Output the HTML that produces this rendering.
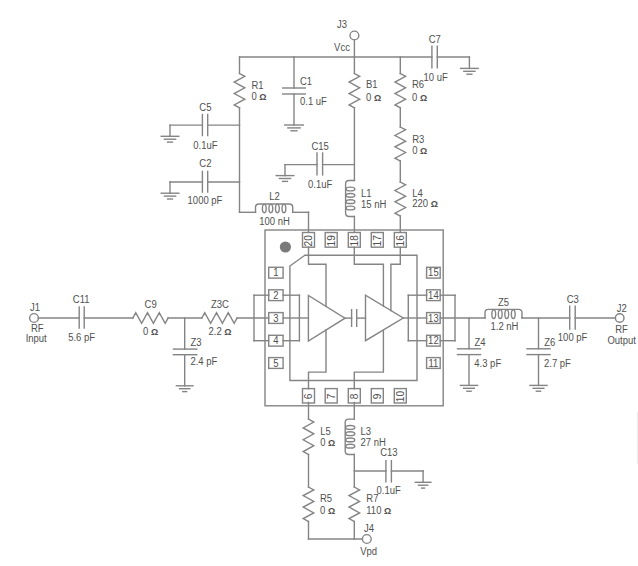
<!DOCTYPE html>
<html><head><meta charset="utf-8"><title>Schematic</title>
<style>html,body{margin:0;padding:0;background:#fff;}body{width:638px;height:566px;overflow:hidden;font-family:"Liberation Sans",sans-serif;}svg{display:block;}</style>
</head><body>
<svg width="638" height="566" viewBox="0 0 638 566">
<rect width="638" height="566" fill="#fff"/>
<line x1="637.5" y1="412" x2="637.5" y2="464" stroke="#ececec" stroke-width="1"/>
<g fill="none" stroke="#848484" stroke-width="1.4" stroke-linecap="square">
<line x1="239.5" y1="57" x2="431.9" y2="57"/>
<line x1="437.3" y1="57" x2="469.4" y2="57"/>
<circle cx="354.4" cy="35.5" r="4.4" fill="#fff"/>
<line x1="354.4" y1="39.9" x2="354.4" y2="57"/>
<line x1="431.9" y1="46.2" x2="431.9" y2="67.8"/>
<line x1="437.3" y1="46.2" x2="437.3" y2="67.8"/>
<line x1="460.6" y1="68.4" x2="478.2" y2="68.4"/>
<line x1="463.8" y1="71.3" x2="475" y2="71.3"/>
<line x1="467" y1="74.2" x2="471.8" y2="74.2"/>
<line x1="469.4" y1="57" x2="469.4" y2="68.4"/>
<line x1="239.5" y1="57" x2="239.5" y2="73.5"/>
<polyline points="239.5,73.5 244.8,76.36 234.2,82.08 244.8,87.79 234.2,93.51 244.8,99.22 234.2,104.94 239.5,107.8"/>
<line x1="239.5" y1="107.8" x2="239.5" y2="212.3"/>
<line x1="294" y1="57" x2="294" y2="88"/>
<line x1="282.7" y1="88" x2="305.3" y2="88"/>
<line x1="282.7" y1="94" x2="305.3" y2="94"/>
<line x1="294" y1="94" x2="294" y2="125"/>
<line x1="284.7" y1="125" x2="303.3" y2="125"/>
<line x1="287.9" y1="127.9" x2="300.1" y2="127.9"/>
<line x1="291.1" y1="130.8" x2="296.9" y2="130.8"/>
<line x1="354.4" y1="57" x2="354.4" y2="73.5"/>
<polyline points="354.4,73.5 359.7,76.36 349.1,82.08 359.7,87.79 349.1,93.51 359.7,99.22 349.1,104.94 354.4,107.8"/>
<line x1="354.4" y1="107.8" x2="354.4" y2="180.5"/>
<path d="M354.4 180.5 H349.1 Q345.6 180.5 345.6 184 V213 Q345.6 216.5 349.1 216.5 H354.4"/>
<ellipse cx="350.44" cy="189" rx="4.4" ry="1.9"/>
<ellipse cx="350.44" cy="195.33" rx="4.4" ry="1.9"/>
<ellipse cx="350.44" cy="201.67" rx="4.4" ry="1.9"/>
<ellipse cx="350.44" cy="208" rx="4.4" ry="1.9"/>
<line x1="354.4" y1="216.5" x2="354.4" y2="232.5"/>
<line x1="400.3" y1="57" x2="400.3" y2="73.5"/>
<polyline points="400.3,73.5 405.6,76.36 395,82.08 405.6,87.79 395,93.51 405.6,99.22 395,104.94 400.3,107.8"/>
<line x1="400.3" y1="107.8" x2="400.3" y2="127"/>
<polyline points="400.3,127 405.6,129.83 395,135.5 405.6,141.17 395,146.83 405.6,152.5 395,158.17 400.3,161"/>
<line x1="400.3" y1="161" x2="400.3" y2="182"/>
<polyline points="400.3,182 405.6,184.83 395,190.5 405.6,196.17 395,201.83 405.6,207.5 395,213.17 400.3,216"/>
<line x1="400.3" y1="216" x2="400.3" y2="232.5"/>
<line x1="170" y1="125.1" x2="202.4" y2="125.1"/>
<line x1="207.7" y1="125.1" x2="239.5" y2="125.1"/>
<line x1="202.4" y1="114.5" x2="202.4" y2="135.5"/>
<line x1="207.7" y1="114.5" x2="207.7" y2="135.5"/>
<line x1="170" y1="125.1" x2="170" y2="136.3"/>
<line x1="161.2" y1="136.3" x2="178.8" y2="136.3"/>
<line x1="164.4" y1="139.2" x2="175.6" y2="139.2"/>
<line x1="167.6" y1="142.1" x2="172.4" y2="142.1"/>
<line x1="170" y1="182" x2="202.4" y2="182"/>
<line x1="207.7" y1="182" x2="239.5" y2="182"/>
<line x1="202.4" y1="171.4" x2="202.4" y2="192.1"/>
<line x1="207.7" y1="171.4" x2="207.7" y2="192.1"/>
<line x1="170" y1="182" x2="170" y2="193.2"/>
<line x1="161.2" y1="193.2" x2="178.8" y2="193.2"/>
<line x1="164.4" y1="196.1" x2="175.6" y2="196.1"/>
<line x1="167.6" y1="199" x2="172.4" y2="199"/>
<line x1="239.5" y1="212.3" x2="255.5" y2="212.3"/>
<path d="M255.5 212.3 V207.5 Q255.5 204 259 204 H289.2 Q292.7 204 292.7 207.5 V212.3"/>
<ellipse cx="264.28" cy="208.56" rx="1.9" ry="4.15"/>
<ellipse cx="270.83" cy="208.56" rx="1.9" ry="4.15"/>
<ellipse cx="277.37" cy="208.56" rx="1.9" ry="4.15"/>
<ellipse cx="283.92" cy="208.56" rx="1.9" ry="4.15"/>
<line x1="292.7" y1="212.3" x2="308.5" y2="212.3"/>
<line x1="308.5" y1="212.3" x2="308.5" y2="232.5"/>
<line x1="285" y1="164.6" x2="317" y2="164.6"/>
<line x1="322.6" y1="164.6" x2="354.4" y2="164.6"/>
<line x1="317" y1="153" x2="317" y2="174.9"/>
<line x1="322.6" y1="153" x2="322.6" y2="174.9"/>
<line x1="285" y1="164.6" x2="285" y2="175.6"/>
<line x1="276.2" y1="175.6" x2="293.8" y2="175.6"/>
<line x1="279.4" y1="178.5" x2="290.6" y2="178.5"/>
<line x1="282.6" y1="181.4" x2="287.4" y2="181.4"/>
<rect x="265" y="230" width="178.2" height="175.8" fill="none"/>
<rect x="302.5" y="232.5" width="12" height="14.7" fill="#fff"/>
<rect x="302.5" y="388.6" width="12" height="14.4" fill="#fff"/>
<rect x="325.2" y="232.5" width="12" height="14.7" fill="#fff"/>
<rect x="325.2" y="388.6" width="12" height="14.4" fill="#fff"/>
<rect x="348.3" y="232.5" width="12" height="14.7" fill="#fff"/>
<rect x="348.3" y="388.6" width="12" height="14.4" fill="#fff"/>
<rect x="371.3" y="232.5" width="12" height="14.7" fill="#fff"/>
<rect x="371.3" y="388.6" width="12" height="14.4" fill="#fff"/>
<rect x="394.3" y="232.5" width="12" height="14.7" fill="#fff"/>
<rect x="394.3" y="388.6" width="12" height="14.4" fill="#fff"/>
<rect x="268.7" y="267.3" width="14.4" height="10.8" fill="#fff"/>
<rect x="426.6" y="267.3" width="13.6" height="10.8" fill="#fff"/>
<rect x="268.7" y="289.8" width="14.4" height="10.8" fill="#fff"/>
<rect x="426.6" y="289.8" width="13.6" height="10.8" fill="#fff"/>
<rect x="268.7" y="312.6" width="14.4" height="10.8" fill="#fff"/>
<rect x="426.6" y="312.6" width="13.6" height="10.8" fill="#fff"/>
<rect x="268.7" y="335.3" width="14.4" height="10.8" fill="#fff"/>
<rect x="426.6" y="335.3" width="13.6" height="10.8" fill="#fff"/>
<rect x="268.7" y="357.6" width="14.4" height="10.8" fill="#fff"/>
<rect x="426.6" y="357.6" width="13.6" height="10.8" fill="#fff"/>
<polyline points="305,255.2 417,255.2 417,380.5 289.9,380.5 289.9,266 305,255.2"/>
<circle cx="285.4" cy="247" r="5.6" fill="#7a7a7a" stroke="none"/>
<polygon points="308.4,295.5 308.4,341 345,318.2"/>
<polygon points="365.5,295.2 365.5,340.7 403.2,318"/>
<polyline points="308.5,247.2 308.5,264.3 326,264.3 326,306.4"/>
<polyline points="354.3,247.2 354.3,264.3 383.4,264.3 383.4,306"/>
<polyline points="400.3,247.2 400.3,264.3 390.9,264.3 390.9,310.6"/>
<polyline points="308.5,388.8 308.5,372.1 326,372.1 326,330"/>
<polyline points="354.3,388.8 354.3,372.1 383.4,372.1 383.4,330.4"/>
<line x1="254" y1="295.2" x2="268.7" y2="295.2"/>
<line x1="254" y1="340.7" x2="268.7" y2="340.7"/>
<line x1="254" y1="295.2" x2="254" y2="340.7"/>
<line x1="283.1" y1="295.2" x2="299.4" y2="295.2"/>
<line x1="283.1" y1="340.7" x2="299.4" y2="340.7"/>
<line x1="299.4" y1="295.2" x2="299.4" y2="340.7"/>
<line x1="283.1" y1="318" x2="308.4" y2="318"/>
<line x1="345" y1="318.1" x2="351.6" y2="318.1"/>
<line x1="356.7" y1="318.1" x2="365.5" y2="318.1"/>
<line x1="351.6" y1="309.7" x2="351.6" y2="326.3"/>
<line x1="356.7" y1="309.7" x2="356.7" y2="326.3"/>
<line x1="403.2" y1="318" x2="426.6" y2="318"/>
<line x1="408.3" y1="295.2" x2="408.3" y2="340.7"/>
<line x1="408.3" y1="295.2" x2="426.6" y2="295.2"/>
<line x1="408.3" y1="340.7" x2="426.6" y2="340.7"/>
<line x1="440.2" y1="295.2" x2="455" y2="295.2"/>
<line x1="440.2" y1="340.7" x2="455" y2="340.7"/>
<line x1="455" y1="295.2" x2="455" y2="340.7"/>
<circle cx="34" cy="318" r="4.4" fill="#fff"/>
<line x1="38.4" y1="318" x2="79.2" y2="318"/>
<line x1="79.2" y1="307" x2="79.2" y2="328"/>
<line x1="84.2" y1="307" x2="84.2" y2="328"/>
<line x1="84.2" y1="318" x2="132.8" y2="318"/>
<polyline points="132.8,318 135.74,312.7 141.62,323.3 147.51,312.7 153.39,323.3 159.28,312.7 165.16,323.3 168.1,318"/>
<line x1="168.1" y1="318" x2="201.8" y2="318"/>
<polyline points="201.8,318 204.74,312.7 210.62,323.3 216.51,312.7 222.39,323.3 228.28,312.7 234.16,323.3 237.1,318"/>
<line x1="237.1" y1="318" x2="268.7" y2="318"/>
<line x1="184.7" y1="318" x2="184.7" y2="349.1"/>
<line x1="173.4" y1="349.1" x2="196.8" y2="349.1"/>
<line x1="173.4" y1="354.7" x2="196.8" y2="354.7"/>
<line x1="184.7" y1="354.7" x2="184.7" y2="385.8"/>
<line x1="176.4" y1="385.8" x2="193" y2="385.8"/>
<line x1="179.6" y1="388.7" x2="189.8" y2="388.7"/>
<line x1="182.8" y1="391.6" x2="186.6" y2="391.6"/>
<line x1="440.2" y1="318" x2="485" y2="318"/>
<path d="M485 318 V312.9 Q485 309.4 488.5 309.4 H518.5 Q522 309.4 522 312.9 V318"/>
<ellipse cx="493.73" cy="314.13" rx="1.9" ry="4.3"/>
<ellipse cx="500.24" cy="314.13" rx="1.9" ry="4.3"/>
<ellipse cx="506.76" cy="314.13" rx="1.9" ry="4.3"/>
<ellipse cx="513.27" cy="314.13" rx="1.9" ry="4.3"/>
<line x1="522" y1="318" x2="569.7" y2="318"/>
<line x1="569.7" y1="306.3" x2="569.7" y2="329"/>
<line x1="575.2" y1="306.3" x2="575.2" y2="329"/>
<line x1="575.2" y1="318" x2="615.4" y2="318"/>
<circle cx="619.7" cy="318" r="4.3" fill="#fff"/>
<line x1="469" y1="318" x2="469" y2="348.8"/>
<line x1="457.5" y1="348.8" x2="480.5" y2="348.8"/>
<line x1="457.5" y1="354.6" x2="480.5" y2="354.6"/>
<line x1="469" y1="354.6" x2="469" y2="385.4"/>
<line x1="460.45" y1="385.4" x2="477.55" y2="385.4"/>
<line x1="463.65" y1="388.3" x2="474.35" y2="388.3"/>
<line x1="466.85" y1="391.2" x2="471.15" y2="391.2"/>
<line x1="538.5" y1="318" x2="538.5" y2="348.8"/>
<line x1="527" y1="348.8" x2="550" y2="348.8"/>
<line x1="527" y1="354.6" x2="550" y2="354.6"/>
<line x1="538.5" y1="354.6" x2="538.5" y2="385.4"/>
<line x1="529.95" y1="385.4" x2="547.05" y2="385.4"/>
<line x1="533.15" y1="388.3" x2="543.85" y2="388.3"/>
<line x1="536.35" y1="391.2" x2="540.65" y2="391.2"/>
<line x1="308.5" y1="402.4" x2="308.5" y2="419.1"/>
<polyline points="308.5,419.1 313.8,422.05 303.2,427.95 313.8,433.85 303.2,439.75 313.8,445.65 303.2,451.55 308.5,454.5"/>
<line x1="308.5" y1="454.5" x2="308.5" y2="487"/>
<polyline points="308.5,487 313.8,489.88 303.2,495.62 313.8,501.38 303.2,507.12 313.8,512.88 303.2,518.62 308.5,521.5"/>
<line x1="308.5" y1="521.5" x2="308.5" y2="539"/>
<line x1="354.3" y1="402.4" x2="354.3" y2="419.1"/>
<path d="M354.3 419.1 H348.7 Q345.2 419.1 345.2 422.6 V451 Q345.2 454.5 348.7 454.5 H354.3"/>
<ellipse cx="350.2" cy="427.45" rx="4.55" ry="1.9"/>
<ellipse cx="350.2" cy="433.68" rx="4.55" ry="1.9"/>
<ellipse cx="350.2" cy="439.92" rx="4.55" ry="1.9"/>
<ellipse cx="350.2" cy="446.15" rx="4.55" ry="1.9"/>
<line x1="354.3" y1="454.5" x2="354.3" y2="487"/>
<polyline points="354.3,487 359.6,489.88 349,495.62 359.6,501.38 349,507.12 359.6,512.88 349,518.62 354.3,521.5"/>
<line x1="354.3" y1="521.5" x2="354.3" y2="539"/>
<line x1="354.3" y1="471" x2="385.9" y2="471"/>
<line x1="391.4" y1="471" x2="423.1" y2="471"/>
<line x1="385.9" y1="460.7" x2="385.9" y2="481.9"/>
<line x1="391.4" y1="460.7" x2="391.4" y2="481.9"/>
<line x1="423.1" y1="471" x2="423.1" y2="482.3"/>
<line x1="415.3" y1="482.3" x2="430.9" y2="482.3"/>
<line x1="418.5" y1="485.2" x2="427.7" y2="485.2"/>
<line x1="421.7" y1="488.1" x2="424.5" y2="488.1"/>
<line x1="308.5" y1="539" x2="362.4" y2="539"/>
<circle cx="366.8" cy="539" r="4.4" fill="#fff"/>
</g>
<g font-family="Liberation Sans, sans-serif" font-size="9.5" fill="#505050">
<text transform="translate(275.9 276.2) scale(1 1.1)" text-anchor="middle">1</text>
<text transform="translate(433.4 276.2) scale(1 1.1)" text-anchor="middle">15</text>
<text transform="translate(275.9 298.7) scale(1 1.1)" text-anchor="middle">2</text>
<text transform="translate(433.4 298.7) scale(1 1.1)" text-anchor="middle">14</text>
<text transform="translate(275.9 321.5) scale(1 1.1)" text-anchor="middle">3</text>
<text transform="translate(433.4 321.5) scale(1 1.1)" text-anchor="middle">13</text>
<text transform="translate(275.9 344.2) scale(1 1.1)" text-anchor="middle">4</text>
<text transform="translate(433.4 344.2) scale(1 1.1)" text-anchor="middle">12</text>
<text transform="translate(275.9 366.5) scale(1 1.1)" text-anchor="middle">5</text>
<text transform="translate(433.4 366.5) scale(1 1.1)" text-anchor="middle">11</text>
<text transform="translate(342 28.3) scale(1 1.1)" text-anchor="middle">J3</text>
<text transform="translate(342 51.1) scale(1 1.1)" text-anchor="middle">Vcc</text>
<text transform="translate(251.4 89.1) scale(1 1.1)">R1</text>
<text transform="translate(251.4 99.8) scale(1 1.1)">0 <tspan font-size="9" font-weight="bold">&#937;</tspan></text>
<text transform="translate(300 84.5) scale(1 1.1)">C1</text>
<text transform="translate(300 105) scale(1 1.1)">0.1 uF</text>
<text transform="translate(366 88.2) scale(1 1.1)">B1</text>
<text transform="translate(366 100.8) scale(1 1.1)">0 <tspan font-size="9" font-weight="bold">&#937;</tspan></text>
<text transform="translate(412 88.2) scale(1 1.1)">R6</text>
<text transform="translate(412 100.8) scale(1 1.1)">0 <tspan font-size="9" font-weight="bold">&#937;</tspan></text>
<text transform="translate(434.8 42.9) scale(1 1.1)" text-anchor="middle">C7</text>
<text transform="translate(435.6 80.9) scale(1 1.1)" text-anchor="middle">10 uF</text>
<text transform="translate(205.4 110.9) scale(1 1.1)" text-anchor="middle">C5</text>
<text transform="translate(205.4 149.1) scale(1 1.1)" text-anchor="middle">0.1uF</text>
<text transform="translate(205.4 167.1) scale(1 1.1)" text-anchor="middle">C2</text>
<text transform="translate(205 204.1) scale(1 1.1)" text-anchor="middle">1000 pF</text>
<text transform="translate(412.2 142.7) scale(1 1.1)">R3</text>
<text transform="translate(412.2 154.2) scale(1 1.1)">0 <tspan font-size="9" font-weight="bold">&#937;</tspan></text>
<text transform="translate(320.1 150.3) scale(1 1.1)" text-anchor="middle">C15</text>
<text transform="translate(320.1 187.6) scale(1 1.1)" text-anchor="middle">0.1uF</text>
<text transform="translate(361 197.3) scale(1 1.1)">L1</text>
<text transform="translate(361 207.7) scale(1 1.1)">15 nH</text>
<text transform="translate(412.2 196.6) scale(1 1.1)">L4</text>
<text transform="translate(412.2 207.2) scale(1 1.1)">220 <tspan font-size="9" font-weight="bold">&#937;</tspan></text>
<text transform="translate(274.5 200.3) scale(1 1.1)" text-anchor="middle">L2</text>
<text transform="translate(274.5 224.7) scale(1 1.1)" text-anchor="middle">100 nH</text>
<text transform="translate(35 310.9) scale(1 1.1)" text-anchor="middle">J1</text>
<text transform="translate(37.3 332.4) scale(1 1.1)" text-anchor="middle">RF</text>
<text transform="translate(36.2 342.1) scale(1 1.1)" text-anchor="middle">Input</text>
<text transform="translate(81.2 302.8) scale(1 1.1)" text-anchor="middle">C11</text>
<text transform="translate(81.6 341) scale(1 1.1)" text-anchor="middle">5.6 pF</text>
<text transform="translate(150.6 308.2) scale(1 1.1)" text-anchor="middle">C9</text>
<text transform="translate(150.6 334.8) scale(1 1.1)" text-anchor="middle">0 <tspan font-size="9" font-weight="bold">&#937;</tspan></text>
<text transform="translate(220 308.2) scale(1 1.1)" text-anchor="middle">Z3C</text>
<text transform="translate(220 334.8) scale(1 1.1)" text-anchor="middle">2.2 <tspan font-size="9" font-weight="bold">&#937;</tspan></text>
<text transform="translate(190.4 345.5) scale(1 1.1)">Z3</text>
<text transform="translate(190.4 365.3) scale(1 1.1)">2.4 pF</text>
<text transform="translate(503.5 305.5) scale(1 1.1)" text-anchor="middle">Z5</text>
<text transform="translate(504.5 329.8) scale(1 1.1)" text-anchor="middle">1.2 nH</text>
<text transform="translate(474.5 346) scale(1 1.1)">Z4</text>
<text transform="translate(474.3 366.5) scale(1 1.1)">4.3 pF</text>
<text transform="translate(544.3 345.5) scale(1 1.1)">Z6</text>
<text transform="translate(544 366.5) scale(1 1.1)">2.7 pF</text>
<text transform="translate(572.8 302.5) scale(1 1.1)" text-anchor="middle">C3</text>
<text transform="translate(572.6 340.5) scale(1 1.1)" text-anchor="middle">100 pF</text>
<text transform="translate(621.8 311.8) scale(1 1.1)" text-anchor="middle">J2</text>
<text transform="translate(621.5 332.8) scale(1 1.1)" text-anchor="middle">RF</text>
<text transform="translate(621.7 344) scale(1 1.1)" text-anchor="middle">Output</text>
<text transform="translate(320.2 434.5) scale(1 1.1)">L5</text>
<text transform="translate(320.2 446.3) scale(1 1.1)">0 <tspan font-size="9" font-weight="bold">&#937;</tspan></text>
<text transform="translate(360.5 434.5) scale(1 1.1)">L3</text>
<text transform="translate(360.5 446.3) scale(1 1.1)">27 nH</text>
<text transform="translate(388.9 455.9) scale(1 1.1)" text-anchor="middle">C13</text>
<text transform="translate(388.6 493.5) scale(1 1.1)" text-anchor="middle">0.1uF</text>
<text transform="translate(320 502.1) scale(1 1.1)">R5</text>
<text transform="translate(320 514.3) scale(1 1.1)">0 <tspan font-size="9" font-weight="bold">&#937;</tspan></text>
<text transform="translate(366.3 502.1) scale(1 1.1)">R7</text>
<text transform="translate(366.3 514.3) scale(1 1.1)">110 <tspan font-size="9" font-weight="bold">&#937;</tspan></text>
<text transform="translate(369 532) scale(1 1.1)" text-anchor="middle">J4</text>
<text transform="translate(368.7 555.3) scale(1 1.1)" text-anchor="middle">Vpd</text>
<text transform="translate(308.5 240.8) rotate(-90)" x="0" y="3.6" font-size="10.2" text-anchor="middle">20</text>
<text transform="translate(308.5 396.5) rotate(-90)" x="0" y="3.6" font-size="10.2" text-anchor="middle">6</text>
<text transform="translate(331.2 240.8) rotate(-90)" x="0" y="3.6" font-size="10.2" text-anchor="middle">19</text>
<text transform="translate(331.2 396.5) rotate(-90)" x="0" y="3.6" font-size="10.2" text-anchor="middle">7</text>
<text transform="translate(354.3 240.8) rotate(-90)" x="0" y="3.6" font-size="10.2" text-anchor="middle">18</text>
<text transform="translate(354.3 396.5) rotate(-90)" x="0" y="3.6" font-size="10.2" text-anchor="middle">8</text>
<text transform="translate(377.3 240.8) rotate(-90)" x="0" y="3.6" font-size="10.2" text-anchor="middle">17</text>
<text transform="translate(377.3 396.5) rotate(-90)" x="0" y="3.6" font-size="10.2" text-anchor="middle">9</text>
<text transform="translate(400.3 240.8) rotate(-90)" x="0" y="3.6" font-size="10.2" text-anchor="middle">16</text>
<text transform="translate(400.3 396.5) rotate(-90)" x="0" y="3.6" font-size="10.2" text-anchor="middle">10</text>
</g>
</svg>
</body></html>
